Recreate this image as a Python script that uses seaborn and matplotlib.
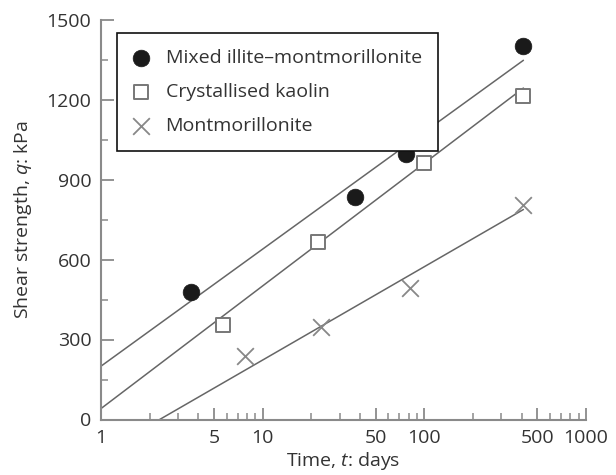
import numpy as np
import pandas as pd
import matplotlib
matplotlib.use("Agg")
import matplotlib.pyplot as plt
import seaborn as sns

# ---- data ----
series_names = ["Mixed illite\u2013montmorillonite", "Crystallised kaolin", "Montmorillonite"]
illite_t = [3.6, 37, 77, 410]
illite_q = [478, 835, 995, 1400]
kaolin_t = [5.7, 22, 100, 410]
kaolin_q = [355, 667, 962, 1215]
montm_t = [7.8, 23, 81, 410]
montm_q = [240, 348, 492, 803]
# fitted lines q = a + b*log10(t), drawn from t=1 to t=410
line_a = [200, 41, -127]
line_b = [439, 460, 350]
line_t_range = [1, 410]

x_ticks = [1, 5, 10, 50, 100, 500, 1000]
x_tick_labels = ["1", "5", "10", "50", "100", "500", "1000"]
y_ticks = [0, 300, 600, 900, 1200, 1500]

sns.set_theme(style="white")
plt.rcParams["font.family"] = ["Open Sans", "DejaVu Sans"]
plt.rcParams["mathtext.fontset"] = "custom"
plt.rcParams["mathtext.it"] = "Open Sans:italic"
plt.rcParams["mathtext.rm"] = "Open Sans"

txt = "#333333"
axc = "#8a8a8a"
fs = 14

fig = plt.figure(figsize=(6.16, 4.75), dpi=100)
ax = fig.add_axes([101 / 616, 1 - 419.5 / 475, 485 / 616, 400 / 475])

# lines
for a, b in zip(line_a, line_b):
    tt = np.array(line_t_range, dtype=float)
    qq = a + b * np.log10(tt)
    sns.lineplot(x=tt, y=qq, ax=ax, color="#666666", linewidth=1.1, legend=False)

sns.scatterplot(x=illite_t, y=illite_q, ax=ax, marker="o", s=12**2, color="#1a1a1a",
                edgecolor="#1a1a1a", linewidth=0.5, label=series_names[0], zorder=5)
sns.scatterplot(x=kaolin_t, y=kaolin_q, ax=ax, marker="s", s=10.5**2, facecolor="white",
                edgecolor="#777777", linewidth=1.4, label=series_names[1], zorder=5)
sns.scatterplot(x=montm_t, y=montm_q, ax=ax, marker="x", s=12**2, color="#888888",
                linewidth=1.3, label=series_names[2], zorder=5)

ax.set_xscale("log")
ax.set_xlim(1, 1000)
ax.set_ylim(0, 1500)
ax.set_xticks(x_ticks)
ax.set_xticklabels(x_tick_labels)
ax.xaxis.set_minor_locator(matplotlib.ticker.LogLocator(base=10, subs=[2, 3, 4, 6, 7, 8, 9]))
ax.xaxis.set_minor_formatter(matplotlib.ticker.NullFormatter())
ax.set_yticks(y_ticks)
ax.yaxis.set_minor_locator(matplotlib.ticker.MultipleLocator(150))

for s in ["top", "right"]:
    ax.spines[s].set_visible(False)
for s in ["left", "bottom"]:
    ax.spines[s].set_color(axc)
    ax.spines[s].set_linewidth(1.5)

ax.tick_params(axis="both", which="major", direction="in", length=9, width=1.3,
               color=axc, labelsize=fs, labelcolor=txt)
ax.tick_params(axis="both", which="minor", direction="in", length=5, width=1.1, color=axc)
ax.tick_params(axis="y", which="major", pad=7)
ax.tick_params(axis="x", which="major", pad=7)
ax.tick_params(bottom=True, left=True, which="both")

ax.set_xlabel("Time, $t$: days", fontsize=fs, color=txt, labelpad=2)
ax.set_ylabel("Shear strength, $q$: kPa", fontsize=fs, color=txt, labelpad=9)

leg = ax.legend(loc="upper left", bbox_to_anchor=(0.033, 0.9675), borderaxespad=0,
                fontsize=fs, frameon=True, fancybox=False, framealpha=1,
                edgecolor="#111111", borderpad=0.85, labelspacing=0.82,
                handlelength=0.8, handletextpad=0.85)
leg.get_frame().set_linewidth(1.2)
for t in leg.get_texts():
    t.set_color(txt)

fig.savefig("out.png", dpi=100)
